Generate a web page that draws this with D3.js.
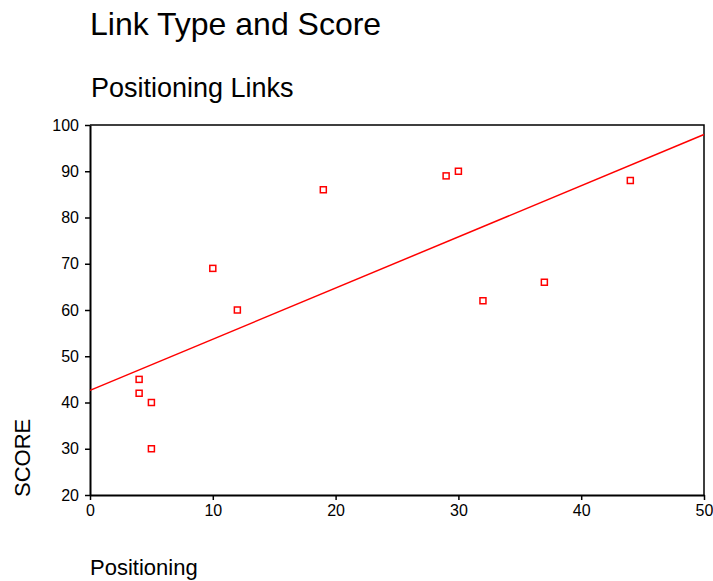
<!DOCTYPE html>
<html lang="en">
<head>
    <meta charset="UTF-8">
    <title>Link Type and Score</title>
    <script src="https://d3js.org/d3.v7.min.js"></script>
    <style>
        body {
            margin: 0;
            padding: 0;
            background: #fff;
            font-family: "Liberation Sans", Arial, sans-serif;
        }
        .tick text { font-family: "Liberation Sans", Arial, sans-serif; fill: #000; }
    </style>
</head>
<body>
    <script>
        // Positioning links vs score
        const positioning = [4, 4, 5, 5, 10, 12, 19, 29, 30, 32, 37, 44];
        const score = [45, 42, 40, 30, 69, 60, 86, 89, 90, 62, 66, 88];
        const xTicks = [0, 10, 20, 30, 40, 50];
        const yTicks = [20, 30, 40, 50, 60, 70, 80, 90, 100];

        const W = 713, H = 581;
        const margin = { top: 125, right: 9, bottom: 86, left: 90 };
        const width = W - margin.left - margin.right;
        const height = H - margin.top - margin.bottom;

        const svg = d3.select("body").append("svg")
            .attr("width", W)
            .attr("height", H);

        const g = svg.append("g")
            .attr("transform", `translate(${margin.left},${margin.top})`);

        const x = d3.scaleLinear().domain([0, 50]).range([0, width]);
        const y = d3.scaleLinear().domain([20, 100]).range([height, 0]);

        // titles
        svg.append("text")
            .attr("x", 90).attr("y", 35)
            .style("font-size", "32px")
            .text("Link Type and Score");
        svg.append("text")
            .attr("x", 91).attr("y", 97)
            .style("font-size", "27px")
            .text("Positioning Links");

        // frame (top and right)
        g.append("path")
            .attr("d", `M0,0H${width}V${height}`)
            .attr("fill", "none")
            .attr("stroke", "#000")
            .attr("stroke-width", 1.5);

        const xAxis = g.append("g")
            .attr("transform", `translate(0,${height})`)
            .call(d3.axisBottom(x).tickValues(xTicks).tickSize(5).tickSizeOuter(0).tickPadding(5));
        const yAxis = g.append("g")
            .call(d3.axisLeft(y).tickValues(yTicks).tickSize(5).tickSizeOuter(0).tickPadding(6));

        [xAxis, yAxis].forEach(a => {
            a.select(".domain").attr("stroke-width", 2);
            a.selectAll(".tick line").attr("stroke-width", 1.5);
            a.selectAll(".tick text").style("font-size", "16px");
        });

        // least-squares fit line
        const mx = d3.mean(positioning), my = d3.mean(score);
        const sxy = d3.sum(positioning, (v, i) => (v - mx) * (score[i] - my));
        const sxx = d3.sum(positioning, v => (v - mx) * (v - mx));
        const slope = sxy / sxx, intercept = my - slope * mx;

        g.append("line")
            .attr("x1", x(0)).attr("y1", y(intercept))
            .attr("x2", x(50)).attr("y2", y(intercept + slope * 50))
            .attr("stroke", "#ff0000")
            .attr("stroke-width", 1.5);

        // points
        g.selectAll("rect.pt")
            .data(positioning.map((v, i) => ({ x: v, y: score[i] })))
            .join("rect")
            .attr("class", "pt")
            .attr("x", d => x(d.x) - 3)
            .attr("y", d => y(d.y) - 3)
            .attr("width", 6)
            .attr("height", 6)
            .attr("fill", "#fff")
            .attr("stroke", "#ff0000")
            .attr("stroke-width", 1.5);

        // axis labels
        svg.append("text")
            .attr("transform", "translate(30,497) rotate(-90)")
            .style("font-size", "22px")
            .text("SCORE");
        svg.append("text")
            .attr("x", 90).attr("y", 575)
            .style("font-size", "22px")
            .text("Positioning");
    </script>
</body>
</html>
